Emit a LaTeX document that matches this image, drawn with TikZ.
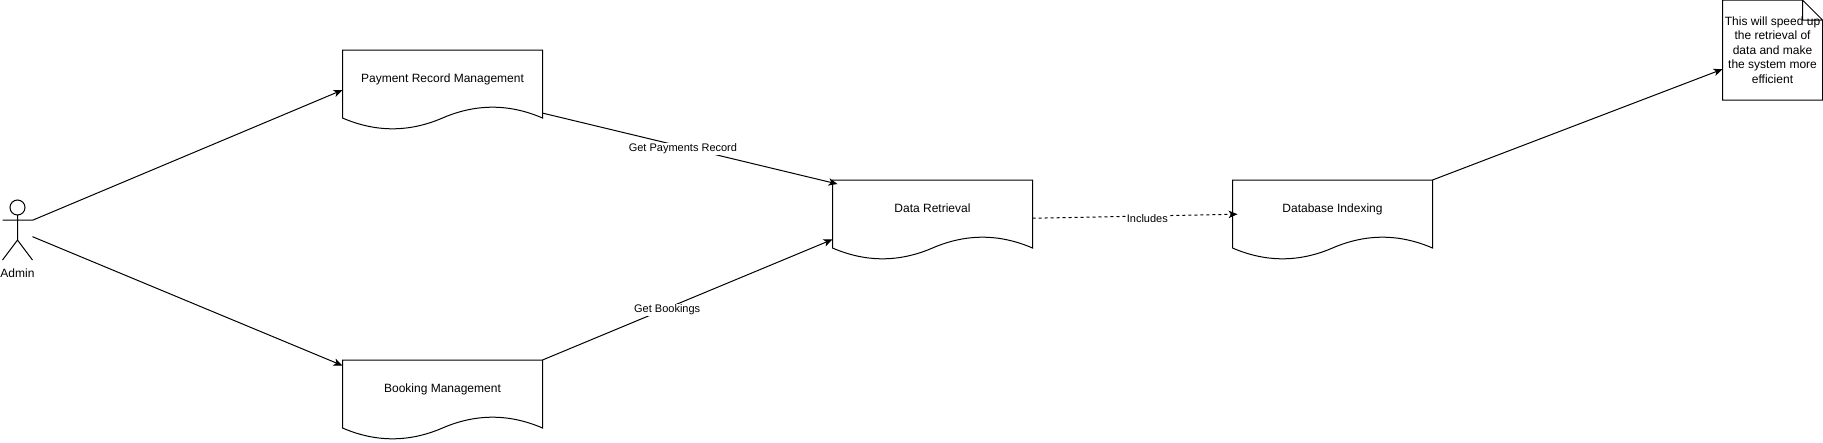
\documentclass[tikz,border=0pt]{standalone}
\usepackage{fontspec}
\setmainfont{Liberation Sans}
\usetikzlibrary{arrows.meta}
\begin{document}
\begin{tikzpicture} [
                x=1pt,y=-1pt,
                line width=1pt,
                box text/.style = {font=\fontsize{12}{14.4}\selectfont},
                record/.style = {box text,minimum width=200pt,minimum height=80pt,inner sep=0pt,outer sep=0pt},
                note/.style = {box text,align=center,minimum size=100pt,inner sep=0pt,outer sep=0pt},
                actor/.style = {minimum width=30pt,minimum height=60pt,inner sep=0pt,outer sep=0pt},
                flow/.style = {draw,-{Stealth[length=9pt,width=7.5pt,inset=2.5pt]}},
                dashed flow/.style = {flow,dash pattern=on 3pt off 3pt},
                flow label/.style = {font=\fontsize{11}{13}\selectfont,fill=white,inner sep=1pt},
            ]
            \useasboundingbox[fill=white] (0,0) rectangle (1823,442);
            % First we draw the boxes
            \foreach \pos/\name/\label in {
                    {(442.5,90)/payment/Payment Record Management},
                    {(442.5,400)/booking/Booking Management},
                    {(932.5,220)/data/Data Retrieval},
                    {(1332.5,220)/indexing/Database Indexing}}
                \node[record] (\name) at \pos {\raisebox{8pt}[0pt][0pt]{\label}};
            \foreach \name in {payment,booking,data,indexing}
                \draw[shift={(\name.north west)}] (0,0) -- (200,0) -- (200,68)
                    .. controls (166.67,53.6) and (133.33,53.6) .. (100,68)
                    .. controls (66.67,82.4) and (33.33,82.4) .. (0,68) -- cycle;
            % The note and the actor
            \node[note] (hint) at (1772.5,50) {This will speed up\\the retrieval of\\data and make\\the system more\\efficient};
            \draw[shift={(hint.north west)}] (0,0) -- (80,0) -- (100,20) -- (100,100) -- (0,100) -- cycle
                (80,0) -- (80,20) -- (100,20);
            \node[actor] (admin) at (17.5,230) {};
            \draw[shift={(admin.north west)}] (15,7.5) circle (7.5pt)
                (15,15) -- (15,40) (0,20) -- (30,20) (0,60) -- (15,40) -- (30,60);
            \node[box text] (admin text) at (17.5,273.5) {Admin};
            % Arrow tips that end inside a box
            \coordinate (data in) at (837.5,184);
            \coordinate (indexing in) at (1237.5,214.2);
            % Connect everything
            \path[flow] (admin.33.7) -- (payment.west);
            \path[flow] (admin.-24) -- (booking.161.7);
            \path[flow] (payment.-13.5) -- node[flow label,pos=0.476,yshift=-2pt] (payments text) {Get Payments Record} (data in);
            \path[flow] (booking.north east) -- node[flow label,pos=0.43,yshift=-1.5pt] (bookings text) {Get Bookings} (data.191.3);
            \path[dashed flow] (data.1) -- node[flow label,pos=0.56,yshift=-2.5pt] (includes text) {Includes} (indexing in);
            \path[flow] (indexing.north east) -- (hint.201.8);
        \end{tikzpicture}
\end{document}
